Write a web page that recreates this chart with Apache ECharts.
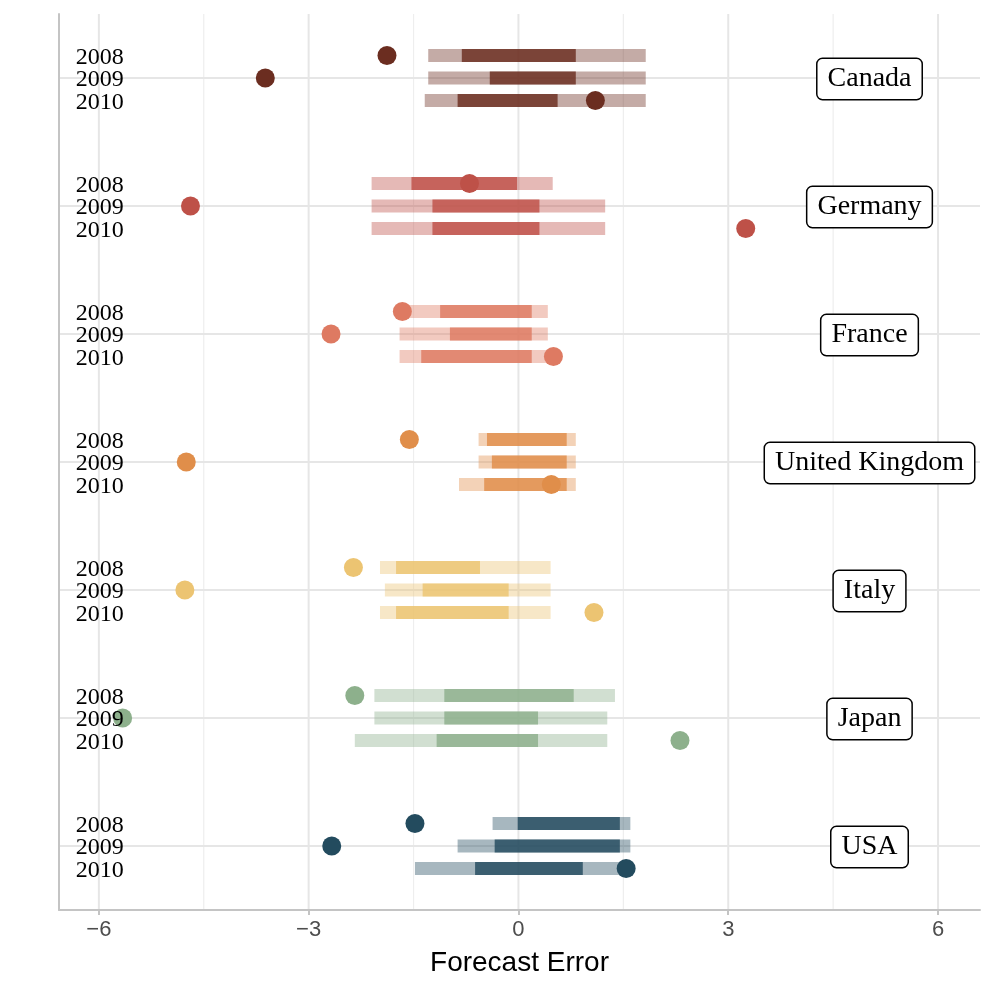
<!DOCTYPE html>
<html>
<head>
<meta charset="utf-8">
<script src="https://cdn.jsdelivr.net/npm/echarts@6/dist/echarts.min.js"></script>
<style>
  html, body { margin: 0; padding: 0; background: #ffffff; }
  #chart { width: 997px; height: 997px; }
</style>
</head>
<body>
<div id="chart"></div>
<script>
// ---- data ----
var countries = ['Canada', 'Germany', 'France', 'United Kingdom', 'Italy', 'Japan', 'USA'];
var years = ['2008', '2009', '2010'];
var colors = ['#6B2D20', '#BE5148', '#DE7A62', '#E08E4A', '#ECC472', '#8DB08C', '#234B5E'];

// outer (light) ranges per country, per year [lo, hi]
var outerLo = [
  [-1.29, -1.29, -1.34],
  [-2.10, -2.10, -2.10],
  [-1.70, -1.70, -1.70],
  [-0.57, -0.57, -0.85],
  [-1.98, -1.91, -1.98],
  [-2.06, -2.06, -2.34],
  [-0.37, -0.87, -1.48]
];
var outerHi = [
  [1.82, 1.82, 1.82],
  [0.49, 1.24, 1.24],
  [0.42, 0.42, 0.42],
  [0.82, 0.82, 0.82],
  [0.46, 0.46, 0.46],
  [1.38, 1.27, 1.27],
  [1.60, 1.60, 1.60]
];
// inner (dark) ranges
var innerLo = [
  [-0.81, -0.41, -0.87],
  [-1.53, -1.23, -1.23],
  [-1.12, -0.98, -1.39],
  [-0.45, -0.38, -0.49],
  [-1.75, -1.37, -1.75],
  [-1.06, -1.06, -1.17],
  [-0.01, -0.34, -0.62]
];
var innerHi = [
  [0.82, 0.82, 0.56],
  [-0.02, 0.30, 0.30],
  [0.19, 0.19, 0.19],
  [0.69, 0.69, 0.69],
  [-0.55, -0.14, -0.14],
  [0.79, 0.28, 0.28],
  [1.45, 1.45, 0.92]
];
// actual forecast error (points)
var actual = [
  [-1.88, -3.62, 1.10],
  [-0.70, -4.69, 3.25],
  [-1.66, -2.68, 0.50],
  [-1.56, -4.75, 0.47],
  [-2.36, -4.77, 1.08],
  [-2.34, -5.66, 2.31],
  [-1.48, -2.67, 1.54]
];
var xTicks = [-6, -3, 0, 3, 6];
var xMinorGrid = [-4.5, -1.5, 1.5, 4.5];

// ---- layout constants ----
var X_MIN = -6.57, X_MAX = 6.6, Y_MIN = -0.5, Y_MAX = 6.5;
var YEAR_OFFSET = 0.176;
var YEAR_LABEL_X = -6.33;
var COUNTRY_LABEL_X = 5.02;
var BAR_H = 13;

function rowY(i, j) { return (countries.length - 1 - i) + (1 - j) * YEAR_OFFSET; }

var outerData = [], innerData = [], pointData = [], yearData = [], countryData = [], hGrid = [];
for (var i = 0; i < countries.length; i++) {
  var center = countries.length - 1 - i;
  hGrid.push([center]);
  countryData.push({ value: [COUNTRY_LABEL_X, center], name: countries[i] });
  for (var j = 0; j < years.length; j++) {
    var y = rowY(i, j);
    outerData.push([outerLo[i][j], outerHi[i][j], y, i]);
    innerData.push([innerLo[i][j], innerHi[i][j], y, i]);
    pointData.push({ value: [actual[i][j], y], itemStyle: { color: colors[i], opacity: 1 } });
    yearData.push([YEAR_LABEL_X, y, j]);
  }
}
var vGrid = [];
xTicks.forEach(function (v) { vGrid.push([v, 1]); });
xMinorGrid.forEach(function (v) { vGrid.push([v, 0]); });

function barRenderer(opacity) {
  return function (params, api) {
    var a = api.coord([api.value(0), api.value(2)]);
    var b = api.coord([api.value(1), api.value(2)]);
    return {
      type: 'rect',
      shape: { x: a[0], y: a[1] - BAR_H / 2, width: b[0] - a[0], height: BAR_H },
      style: { fill: colors[api.value(3)], opacity: opacity }
    };
  };
}

var chart = echarts.init(document.getElementById('chart'), null, { renderer: 'canvas' });
chart.setOption({
  animation: false,
  backgroundColor: '#ffffff',
  grid: { left: 59, right: 17, top: 14, bottom: 87, containLabel: false },
  xAxis: {
    type: 'value', min: X_MIN, max: X_MAX,
    axisLine: { show: true, onZero: false, lineStyle: { color: '#c4c4c4', width: 2 } },
    axisTick: { show: true, customValues: xTicks, length: 5, lineStyle: { color: '#c4c4c4', width: 2 } },
    axisLabel: {
      show: true, customValues: xTicks, margin: 9,
      color: '#4d4d4d', fontSize: 22, fontFamily: 'Liberation Sans',
      formatter: function (v) { return v < 0 ? '\u2212' + Math.abs(v) : String(v); }
    },
    splitLine: { show: false },
    name: 'Forecast Error', nameLocation: 'middle', nameGap: 39,
    nameTextStyle: { color: '#000000', fontSize: 28, fontFamily: 'Liberation Sans' }
  },
  yAxis: {
    type: 'value', min: Y_MIN, max: Y_MAX,
    axisLine: { show: true, onZero: false, lineStyle: { color: '#c4c4c4', width: 2 } },
    axisTick: { show: false },
    axisLabel: { show: false },
    splitLine: { show: false }
  },
  series: [
    {
      type: 'custom', silent: true, z: 0, data: vGrid,
      encode: { x: 0 },
      renderItem: function (params, api) {
        var top = api.coord([api.value(0), Y_MAX]);
        var bot = api.coord([api.value(0), Y_MIN]);
        var major = api.value(1) === 1;
        return {
          type: 'line',
          shape: { x1: top[0], y1: top[1], x2: bot[0], y2: bot[1] },
          style: { stroke: major ? '#e6e6e6' : '#eeeeee', lineWidth: major ? 2 : 1.2 }
        };
      }
    },
    {
      type: 'custom', silent: true, z: 0, data: hGrid,
      encode: { y: 0 },
      renderItem: function (params, api) {
        var l = api.coord([X_MIN, api.value(0)]);
        var r = api.coord([X_MAX, api.value(0)]);
        return {
          type: 'line',
          shape: { x1: l[0], y1: l[1], x2: r[0], y2: r[1] },
          style: { stroke: '#e6e6e6', lineWidth: 2 }
        };
      }
    },
    {
      type: 'custom', silent: true, z: 2, data: outerData,
      encode: { x: [0, 1], y: 2 },
      renderItem: barRenderer(0.4)
    },
    {
      type: 'custom', silent: true, z: 3, data: innerData,
      encode: { x: [0, 1], y: 2 },
      renderItem: barRenderer(0.82)
    },
    {
      type: 'scatter', silent: true, z: 4, symbol: 'circle', symbolSize: 19,
      itemStyle: { opacity: 1 },
      data: pointData
    },
    {
      type: 'custom', silent: true, z: 6, data: yearData,
      encode: { x: 0, y: 1 },
      renderItem: function (params, api) {
        var p = api.coord([api.value(0), api.value(1)]);
        return {
          type: 'text',
          x: p[0], y: p[1] + 2,
          style: {
            text: years[api.value(2)],
            fill: '#000000',
            font: '24px "Liberation Serif"',
            textAlign: 'left', textVerticalAlign: 'middle'
          }
        };
      }
    },
    {
      type: 'scatter', silent: true, z: 7, symbolSize: 1,
      itemStyle: { color: 'rgba(0,0,0,0)', opacity: 1 },
      data: countryData,
      label: {
        show: true, position: 'inside', offset: [0, 1],
        formatter: function (p) { return p.name; },
        color: '#000000', fontSize: 28, fontFamily: 'Liberation Serif',
        lineHeight: 30, opacity: 1,
        backgroundColor: '#ffffff', borderColor: '#000000', borderWidth: 1.5,
        borderRadius: 5, padding: [9, 10, 1, 10]
      }
    }
  ]
});
</script>
</body>
</html>
